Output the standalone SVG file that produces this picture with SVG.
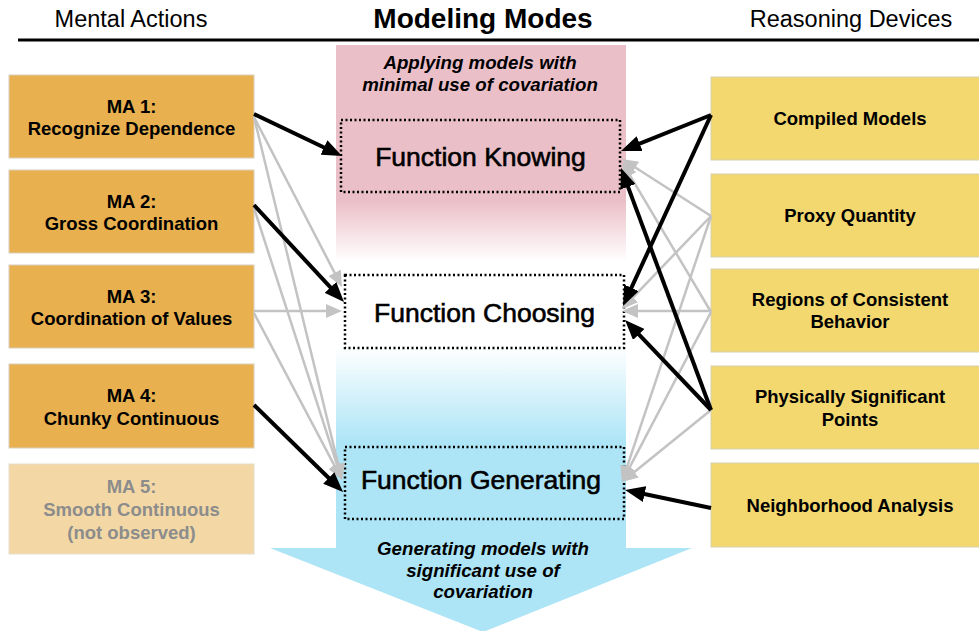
<svg xmlns="http://www.w3.org/2000/svg" width="979" height="631" viewBox="0 0 979 631">
<defs>
  <linearGradient id="colGrad" x1="0" y1="45" x2="0" y2="548" gradientUnits="userSpaceOnUse">
    <stop offset="0" stop-color="#EBBFC8"/>
    <stop offset="0.31" stop-color="#EBBFC8"/>
    <stop offset="0.43" stop-color="#FFFFFF"/>
    <stop offset="0.6" stop-color="#FFFFFF"/>
    <stop offset="0.79" stop-color="#ADE5F6"/>
    <stop offset="1" stop-color="#ADE5F6"/>
  </linearGradient>
  <marker id="ahBlack" markerUnits="userSpaceOnUse" markerWidth="20" markerHeight="16" refX="10" refY="8" orient="auto">
    <path d="M0,0 L20,8 L0,16 z" fill="#000"/>
  </marker>
  <marker id="ahGray" markerUnits="userSpaceOnUse" markerWidth="16" markerHeight="14" refX="8" refY="7" orient="auto">
    <path d="M0,0 L16,7 L0,14 z" fill="#C3C3C3"/>
  </marker>
</defs>
<style>
  .hdr { font-family: "Liberation Sans", Arial, sans-serif; font-size: 23.5px; fill: #000; text-anchor: middle; }
  .title { font-family: "Liberation Sans", Arial, sans-serif; font-size: 28px; font-weight: bold; fill: #000; text-anchor: middle; }
  .cap { font-family: "Liberation Sans", Arial, sans-serif; font-size: 18.7px; font-weight: bold; font-style: italic; fill: #000; text-anchor: middle; }
  .ma { fill: #E8B04E; stroke: #D8D0C0; stroke-width: 1; }
  .ma5 { fill: #F3D8A6; stroke: #E6DCCB; stroke-width: 1; }
  .rd { fill: #F2D86E; stroke: #D8D0B0; stroke-width: 1; }
  .lbl { font-family: "Liberation Sans", Arial, sans-serif; font-size: 18.5px; font-weight: bold; fill: #000; text-anchor: middle; }
  .lbl5 { font-family: "Liberation Sans", Arial, sans-serif; font-size: 18.5px; font-weight: bold; fill: #8C8C8C; text-anchor: middle; }
  .fbox { stroke: #000; stroke-width: 2.5; stroke-dasharray: 2 2.5; }
  .ftxt { font-family: "Liberation Sans", Arial, sans-serif; font-size: 26.5px; fill: #000; stroke: #000; stroke-width: 0.6; text-anchor: middle; }
  .blk { stroke: #000; stroke-width: 4; fill: none; marker-end: url(#ahBlack); }
  .gry { stroke: #C3C3C3; stroke-width: 2.5; fill: none; marker-end: url(#ahGray); }
</style>
<rect x="0" y="0" width="979" height="631" fill="#FFFFFF"/>

<g id="header">
  <text class="hdr" x="131" y="27">Mental Actions</text>
  <text class="title" x="483" y="28">Modeling Modes</text>
  <text class="hdr" x="851" y="27">Reasoning Devices</text>
  <line x1="18" y1="40" x2="979" y2="40" stroke="#000" stroke-width="3"/>
</g>

<g id="modeling-column">
  <rect x="336" y="45" width="290" height="504" fill="url(#colGrad)"/>
  <polygon points="270,548 692,548 483,632" fill="#ADE5F6"/>
  <text class="cap" x="480" y="69">Applying models with</text>
  <text class="cap" x="480" y="91">minimal use of covariation</text>
  <text class="cap" x="483" y="555">Generating models with</text>
  <text class="cap" x="483" y="577">significant use of</text>
  <text class="cap" x="483" y="598">covariation</text>
</g>

<g id="ma1">
  <rect class="ma" x="9" y="75" width="245" height="83"/>
  <text class="lbl" x="131.5" y="112.5">MA 1:</text>
  <text class="lbl" x="131.5" y="134.5">Recognize Dependence</text>
</g>
<g id="ma2">
  <rect class="ma" x="9" y="170" width="245" height="83"/>
  <text class="lbl" x="131.5" y="207.5">MA 2:</text>
  <text class="lbl" x="131.5" y="229.5">Gross Coordination</text>
</g>
<g id="ma3">
  <rect class="ma" x="9" y="265" width="245" height="83"/>
  <text class="lbl" x="131.5" y="302.5">MA 3:</text>
  <text class="lbl" x="131.5" y="324.5">Coordination of Values</text>
</g>
<g id="ma4">
  <rect class="ma" x="9" y="364" width="245" height="84"/>
  <text class="lbl" x="131.5" y="402">MA 4:</text>
  <text class="lbl" x="131.5" y="424.5">Chunky Continuous</text>
</g>
<g id="ma5">
  <rect class="ma5" x="9" y="464" width="245" height="90"/>
  <text class="lbl5" x="131.5" y="493">MA 5:</text>
  <text class="lbl5" x="131.5" y="516">Smooth Continuous</text>
  <text class="lbl5" x="131.5" y="538.5">(not observed)</text>
</g>

<g id="function-knowing">
  <rect class="fbox" x="341" y="120" width="279" height="72" fill="none"/>
  <text class="ftxt" x="480.5" y="165.5">Function Knowing</text>
</g>
<g id="function-choosing">
  <rect class="fbox" x="345" y="275" width="279" height="73" fill="#FFFFFF"/>
  <text class="ftxt" x="484.5" y="322">Function Choosing</text>
</g>
<g id="function-generating">
  <rect class="fbox" x="345" y="447" width="279" height="72" fill="none"/>
  <text class="ftxt" x="481" y="488.5">Function Generating</text>
</g>

<g id="rd-compiled">
  <rect class="rd" x="711" y="77" width="280" height="83"/>
  <text class="lbl" x="850" y="125">Compiled Models</text>
</g>
<g id="rd-proxy">
  <rect class="rd" x="711" y="174" width="280" height="83"/>
  <text class="lbl" x="850" y="222">Proxy Quantity</text>
</g>
<g id="rd-regions">
  <rect class="rd" x="711" y="269" width="280" height="83"/>
  <text class="lbl" x="850" y="305.5">Regions of Consistent</text>
  <text class="lbl" x="850" y="328">Behavior</text>
</g>
<g id="rd-physical">
  <rect class="rd" x="711" y="366" width="280" height="83"/>
  <text class="lbl" x="850" y="403">Physically Significant</text>
  <text class="lbl" x="850" y="426">Points</text>
</g>
<g id="rd-neighborhood">
  <rect class="rd" x="711" y="463" width="280" height="84"/>
  <text class="lbl" x="850" y="512">Neighborhood Analysis</text>
</g>

<g id="connectors">
  <!-- gray, left -->
  <line class="gry" x1="254" y1="117" x2="338.3" y2="279.9"/>
  <line class="gry" x1="254" y1="117" x2="340.1" y2="472.2"/>
  <line class="gry" x1="254" y1="208" x2="339.5" y2="472.4"/>
  <line class="gry" x1="254" y1="311" x2="334" y2="311"/>
  <line class="gry" x1="254" y1="313" x2="338.3" y2="472.9"/>
  <!-- gray, right -->
  <line class="gry" x1="711" y1="216" x2="628.7" y2="163.3"/>
  <line class="gry" x1="711" y1="216" x2="627.5" y2="303.2"/>
  <line class="gry" x1="711" y1="216" x2="624.5" y2="474.4"/>
  <line class="gry" x1="711" y1="312" x2="626.1" y2="168.9"/>
  <line class="gry" x1="711" y1="311" x2="630" y2="311"/>
  <line class="gry" x1="711" y1="312" x2="625.7" y2="474.9"/>
  <line class="gry" x1="711" y1="410" x2="628.2" y2="477"/>
  <!-- black, left -->
  <line class="blk" x1="254" y1="114" x2="333" y2="151.7"/>
  <line class="blk" x1="254" y1="205" x2="337.2" y2="294.7"/>
  <line class="blk" x1="254" y1="405" x2="335.9" y2="485"/>
  <!-- black, right -->
  <line class="blk" x1="711" y1="115" x2="630.3" y2="147.3"/>
  <line class="blk" x1="711" y1="115" x2="627.2" y2="296.9"/>
  <line class="blk" x1="711" y1="410" x2="624.5" y2="177.4"/>
  <line class="blk" x1="711" y1="410" x2="631.9" y2="327.2"/>
  <line class="blk" x1="711" y1="508" x2="634.8" y2="492"/>
</g>
</svg>
